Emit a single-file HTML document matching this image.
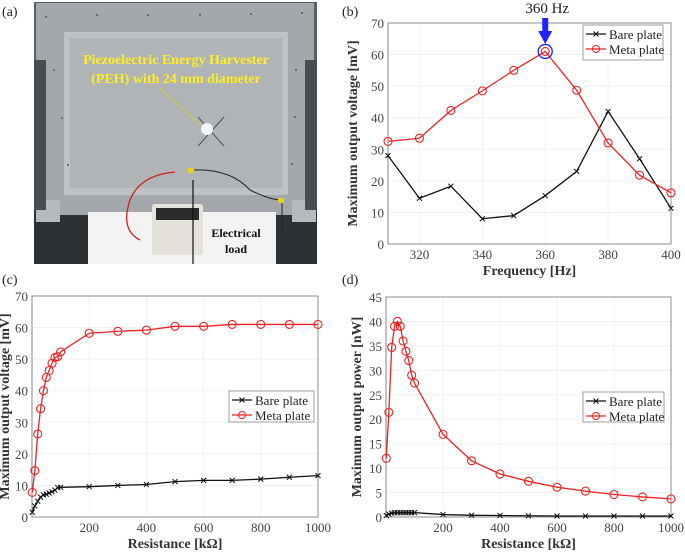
<!DOCTYPE html>
<html><head><meta charset="utf-8"><style>
body{margin:0;background:#fff;width:685px;height:552px;overflow:hidden;font-family:"Liberation Serif",serif;}
svg{position:absolute;left:0;top:0}
</style></head><body>
<svg id="s" width="685" height="552" xmlns="http://www.w3.org/2000/svg">
<g>
<rect x="34" y="2" width="283" height="262" fill="#2e3134"/>
<rect x="34" y="2" width="283" height="60" fill="#5a5e62"/>
<rect x="36" y="3" width="278" height="212" fill="#a4a8ac"/>
<rect x="36" y="200" width="24" height="22" fill="#b7babd"/>
<rect x="292" y="200" width="24" height="22" fill="#b7babd"/>
<rect x="64" y="32" width="224" height="163" fill="#bfc2c5"/>
<rect x="70" y="38" width="212" height="150" fill="#b0b4b7"/>
<rect x="34" y="60" width="12" height="150" fill="#4a4d50"/>
<rect x="305" y="60" width="12" height="150" fill="#4a4d50"/>
<g fill="#555">
<circle cx="46" cy="17" r="1"/><circle cx="97" cy="15" r="1"/><circle cx="148" cy="15" r="1"/><circle cx="200" cy="15" r="1"/><circle cx="251" cy="14" r="1"/><circle cx="302" cy="13" r="1"/>
<circle cx="54" cy="70" r="1"/><circle cx="62" cy="118" r="1"/><circle cx="68" cy="165" r="1"/><circle cx="296" cy="70" r="1"/><circle cx="295" cy="117" r="1"/><circle cx="292" cy="164" r="1"/>
</g>
<rect x="88" y="212" width="188" height="52" fill="#f3f3f3"/>
<rect x="152" y="204" width="51" height="51" rx="3" fill="#e4e2da"/>
<rect x="156" y="208" width="43" height="12" fill="#2a2a2a"/>
<line x1="198" y1="117" x2="224" y2="146" stroke="#333" stroke-width="0.8"/>
<line x1="198" y1="146" x2="224" y2="117" stroke="#333" stroke-width="0.8"/>
<circle cx="207" cy="129" r="6" fill="#f5f5f5"/>
<path d="M175 172 Q140 175 130 200 Q120 230 140 240" stroke="#c22" stroke-width="1.3" fill="none"/>
<path d="M192 170 Q230 168 250 190 Q270 200 282 200 L282 235" stroke="#222" stroke-width="1" fill="none"/>
<line x1="193" y1="180" x2="193" y2="264" stroke="#111" stroke-width="1.2"/>
<line x1="160" y1="88" x2="200" y2="125" stroke="#dd0" stroke-width="0.6"/>
<rect x="188" y="168" width="6" height="5" fill="#e8d020"/>
<rect x="278" y="198" width="6" height="5" fill="#e8d020"/>
<text x="176" y="64" font-size="14" font-weight="bold" fill="#ffee22" text-anchor="middle">Piezoelectric Energy Harvester</text>
<text x="176" y="83" font-size="14" font-weight="bold" fill="#ffee22" text-anchor="middle">(PEH) with 24 mm diameter</text>
<text x="236" y="237" font-size="12" font-weight="bold" fill="#111" text-anchor="middle">Electrical</text>
<text x="236" y="253" font-size="12" font-weight="bold" fill="#111" text-anchor="middle">load</text>
</g>
<text x="2" y="16" font-size="14" fill="#222">(a)</text>
<text x="342" y="16" font-size="14" fill="#222">(b)</text>
<text x="2" y="284" font-size="14" fill="#222">(c)</text>
<text x="342" y="284" font-size="14" fill="#222">(d)</text>
</svg>
<script>
const freq=[310,320,330,340,350,360,370,380,390,400];
const bFreqBare=[28,14.5,18.3,8,9,15.3,23,42,27,11.3];
const bFreqMeta=[32.5,33.5,42.3,48.5,55,61,48.7,32,21.8,16.2];
const res=[1,10,20,30,40,50,60,70,80,90,100,200,300,400,500,600,700,800,900,1000];
const vBare=[1.5,3.5,5,6.3,7,7.2,7.6,8,8.5,9.3,9.4,9.6,10,10.3,11.2,11.6,11.6,12,12.6,13.1];
const vMeta=[7.8,14.7,26.3,34.3,40,44.2,46.4,48.7,50.5,50.8,52.3,58.2,58.8,59.2,60.4,60.4,61,61,61,61];
const pBare=[0.3,0.6,0.8,0.9,0.9,0.9,0.9,0.9,0.9,0.9,0.9,0.5,0.35,0.3,0.25,0.2,0.2,0.2,0.2,0.2];
const pMeta=[12,21.4,34.7,39,40,39,36,33.9,32,29,27.4,16.9,11.5,8.8,7.3,6.1,5.3,4.6,4.1,3.7];
const bXTicks=[320,340,360,380,400];
const bYTicks=[0,10,20,30,40,50,60,70];
const rXTicks=[200,400,600,800,1000];
const pYTicks=[0,5,10,15,20,25,30,35,40,45];

const S=document.getElementById('s');const NS='http://www.w3.org/2000/svg';
function mk(t,a,p){const e=document.createElementNS(NS,t);for(const k in a)e.setAttribute(k,a[k]);(p||S).appendChild(e);return e;}
function chart(o){
 const g=mk('g',{});
 
 
 const X=v=>o.L+(v-o.x0)/(o.x1-o.x0)*(o.R-o.L);
 const Y=v=>o.B-(v-o.y0)/(o.y1-o.y0)*(o.B-o.T);
 mk('rect',{x:o.L,y:o.T,width:o.R-o.L,height:o.B-o.T,fill:'#fff',stroke:'#bbb','stroke-width':0.8},g);
 o.xt.forEach(t=>{mk('line',{x1:X(t),x2:X(t),y1:o.T,y2:o.B,stroke:'#eee','stroke-width':0.8},g);
  const tx=mk('text',{x:X(t),y:o.B+15,'font-size':13,fill:'#444','text-anchor':'middle'},g);tx.textContent=t;
  
  });
 o.yt.forEach(t=>{mk('line',{x1:o.L,x2:o.R,y1:Y(t),y2:Y(t),stroke:'#eee','stroke-width':0.8},g);
  const tx=mk('text',{x:o.L-4,y:Y(t)+5,'font-size':13,fill:'#444','text-anchor':'end'},g);tx.textContent=t;
  
  });
 mk('rect',{x:o.L,y:o.T,width:o.R-o.L,height:o.B-o.T,fill:'none',stroke:'#777','stroke-width':0.8},g);
 const xl=mk('text',{x:(o.L+o.R)/2,y:o.B+31,'font-size':14,'font-weight':'bold',fill:'#333','text-anchor':'middle'},g);xl.textContent=o.xl;
 
 
 const cy=(o.T+o.B)/2;const yl=mk('text',{x:o.yx,y:cy,'font-size':14,'font-weight':'bold',fill:'#333','text-anchor':'middle',transform:`rotate(-90 ${o.yx} ${cy})`},g);yl.textContent=o.yl;
 
 
 o.series.forEach(s=>{
  const pl=mk('polyline',{points:o.xs.map((x,i)=>X(x)+','+Y(s.v[i])).join(' '),fill:'none',stroke:s.c,'stroke-width':1.3},g);
  
  
  o.xs.forEach((x,i)=>{const px=X(x),py=Y(s.v[i]);
   if(s.m==='o'){const c=mk('circle',{cx:px,cy:py,r:4,fill:'none',stroke:s.c,'stroke-width':1.1},g);
    
    }
   else{const p=mk('path',{d:`M${px-2.5} ${py-2.5}L${px+2.5} ${py+2.5}M${px-2.5} ${py+2.5}L${px+2.5} ${py-2.5}`,stroke:s.c,'stroke-width':1},g);
    
    }});
 });
 const lg=o.lg;const leg=mk('g',{},g);
 
 
 mk('rect',{x:lg[0],y:lg[1],width:lg[2],height:lg[3],fill:'#fff',stroke:'#888','stroke-width':0.8},leg);
 [['Bare plate','#111','x'],['Meta plate','#e22','o']].forEach((e,i)=>{const yy=lg[1]+9+i*15;const cx=lg[0]+13;
  mk('line',{x1:lg[0]+3,x2:lg[0]+23,y1:yy,y2:yy,stroke:e[1],'stroke-width':1.3},leg);
  if(e[2]==='o')mk('circle',{cx:cx,cy:yy,r:3.5,fill:'none',stroke:e[1]},leg);
  else mk('path',{d:`M${cx-2.5} ${yy-2.5}L${cx+2.5} ${yy+2.5}M${cx-2.5} ${yy+2.5}L${cx+2.5} ${yy-2.5}`,stroke:e[1]},leg);
  const t=mk('text',{x:lg[0]+26,y:yy+5,'font-size':13,fill:'#222'},leg);t.textContent=e[0];
  
  });
 return {X,Y,g};
}
const b=chart({name:'chart-b-frequency',L:388,R:671,T:23,B:244,x0:310,x1:400,y0:0,y1:70,xt:bXTicks,yt:bYTicks,xs:freq,
 series:[{n:'bare-plate',v:bFreqBare,c:'#111',m:'x'},{n:'meta-plate',v:bFreqMeta,c:'#e22',m:'o'}],
 xl:'Frequency [Hz]',yl:'Maximum output voltage [mV]',yx:357,lg:[583,25,80,35]});
const hc=mk('circle',{cx:b.X(360),cy:b.Y(bFreqMeta[5]),r:7,fill:'none',stroke:'#22f','stroke-width':1.3});


const ax=b.X(360);
const ar=mk('path',{d:`M${ax-3} 18L${ax+3} 18L${ax+3} 31L${ax+7} 31L${ax} 44L${ax-7} 31L${ax-3} 31Z`,fill:'#22f'});


const pt=mk('text',{x:ax+2,y:13,'font-size':15,fill:'#222','text-anchor':'middle'});pt.textContent='360 Hz';


chart({name:'chart-c-voltage',L:32,R:318,T:296,B:517,x0:0,x1:1000,y0:0,y1:70,xt:rXTicks,yt:bYTicks,xs:res,
 series:[{n:'bare-plate',v:vBare,c:'#111',m:'x'},{n:'meta-plate',v:vMeta,c:'#e22',m:'o'}],
 xl:'Resistance [kΩ]',yl:'Maximum output voltage [mV]',yx:9,lg:[229,391,85,31]});
chart({name:'chart-d-power',L:386,R:671,T:297,B:517,x0:0,x1:1000,y0:0,y1:45,xt:rXTicks,yt:pYTicks,xs:res,
 series:[{n:'bare-plate',v:pBare,c:'#111',m:'x'},{n:'meta-plate',v:pMeta,c:'#e22',m:'o'}],
 xl:'Resistance [kΩ]',yl:'Maximum output power [nW]',yx:361,lg:[583,392,81,30]});
</script>
</body></html>
